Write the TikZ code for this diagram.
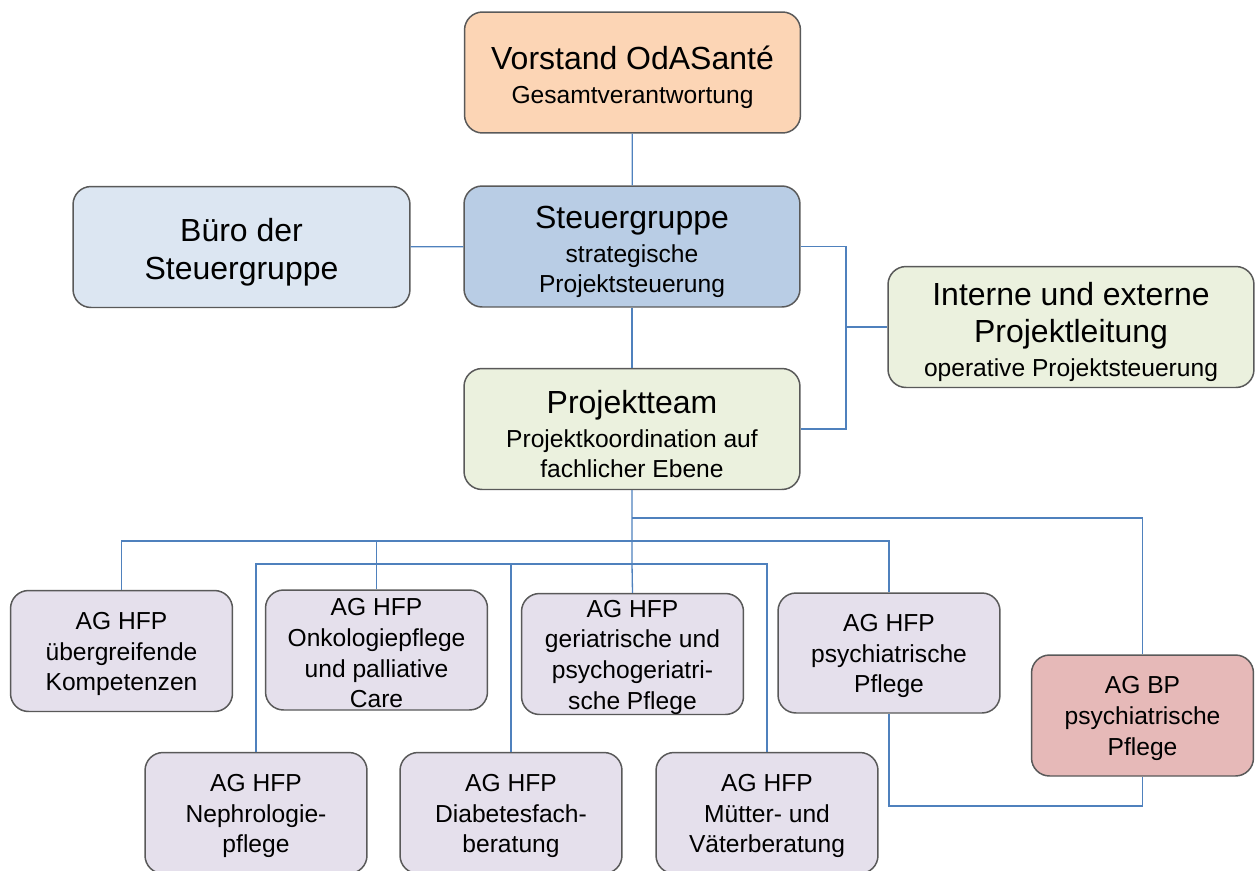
\documentclass[tikz,border=0pt]{standalone}
\usepackage{fontspec}
\setmainfont{Liberation Sans}
\definecolor{linkblue}{HTML}{4F81BD}
\definecolor{rim}{HTML}{595959}
\definecolor{peach}{HTML}{FCD5B5}
\definecolor{paleblue}{HTML}{DCE6F2}
\definecolor{midblue}{HTML}{B9CDE5}
\definecolor{palegreen}{HTML}{EBF1DE}
\definecolor{lilac}{HTML}{E5E0EC}
\definecolor{rose}{HTML}{E6B9B8}
\newcommand{\hd}[1]{\rule{0pt}{19pt}{\fontsize{18.2}{21}\selectfont #1}}
\newcommand{\ag}[1]{\rule{0pt}{13.4pt}#1}
\tikzset{
	box/.style={draw=rim, line width=0.85pt, rounded corners=0.36cm, align=center, inner sep=0pt, font=\fontsize{14}{17.2}\selectfont},
	big/.style={box, minimum width=6.72cm, minimum height=2.42cm},
	small/.style={box, fill=lilac, minimum width=4.44cm, minimum height=2.42cm, font=\fontsize{14}{17.5}\selectfont},
	link/.style={draw=linkblue, line width=0.75pt}
}
\begin{document}
\begin{tikzpicture}[x=0.02cm, y=-0.02cm]
		\useasboundingbox (0,0) rectangle (1255,870);
		\node [big, fill=peach] (vorstand) at (632.5, 72.5) {\hd{Vorstand OdASanté}\\[2pt]Gesamtverantwortung};
		\node [big, fill=paleblue, minimum width=6.74cm] (buero) at (241.5, 247) {\hd{Büro der}\\[4.7pt]{\fontsize{18.2}{21}\selectfont Steuergruppe}};
		\node [big, fill=midblue] (steuer) at (632, 246.5) {\hd{Steuergruppe}\\[2pt]strategische\\Projektsteuerung};
		\node [big, fill=palegreen, minimum width=7.32cm] (leitung) at (1071, 327) {\hd{Interne und externe}\\[3.7pt]{\fontsize{18.2}{21}\selectfont Projektleitung}\\[2pt]operative Projektsteuerung};
		\node [big, fill=palegreen] (team) at (632, 429) {\hd{Projektteam}\\[2pt]Projektkoordination auf\\fachlicher Ebene};

		\node [small] (ag1) at (121.5, 651) {\ag{AG HFP}\\übergreifende\\Kompetenzen};
		\node [small, minimum height=2.4cm] (ag2) at (376.5, 650) {\ag{AG HFP}\\Onkologiepflege\\und palliative\\Care};
		\node [small] (ag3) at (632.5, 654) {\ag{AG HFP}\\geriatrische und\\psychogeriatri-\\sche Pflege};
		\node [small, minimum height=2.4cm] (ag4) at (889, 653) {\ag{AG HFP}\\psychiatrische\\Pflege};
		\node [small, fill=rose] (bp) at (1142.5, 715.5) {\ag{AG BP}\\psychiatrische\\Pflege};
		\node [small] (ag5) at (256, 813) {\ag{AG HFP}\\Nephrologie-\\pflege};
		\node [small] (ag6) at (511, 813) {\ag{AG HFP}\\Diabetesfach-\\beratung};
		\node [small] (ag7) at (767, 813) {\ag{AG HFP}\\Mütter- und\\Väterberatung};

		\coordinate (rail) at (846, 327);
		\coordinate (j1) at (632, 518);
		\coordinate (j2) at (632, 541);
		\coordinate (j3) at (632, 564);
		\coordinate (low) at (1142.5, 806);

		\draw [link] (vorstand) to (steuer);
		\draw [link] (buero) to (steuer);
		\draw [link] (steuer) to (team);
		\draw [link] (steuer.east) -| (rail) to (leitung.west);
		\draw [link] (team.east) -| (rail);
		\draw [link] (team.south) to (j3) to (ag3.north);
		\draw [link] (j1) -| (bp.north);
		\draw [link] (j2) -| (ag1.north);
		\draw [link] (j2) -| (ag2.north);
		\draw [link] (j2) -| (ag4.north);
		\draw [link] (j3) -| (ag5.north);
		\draw [link] (j3) -| (ag6.north);
		\draw [link] (j3) -| (ag7.north);
		\draw [link] (ag4.south) |- (low) to (bp.south);
\end{tikzpicture}
\end{document}
